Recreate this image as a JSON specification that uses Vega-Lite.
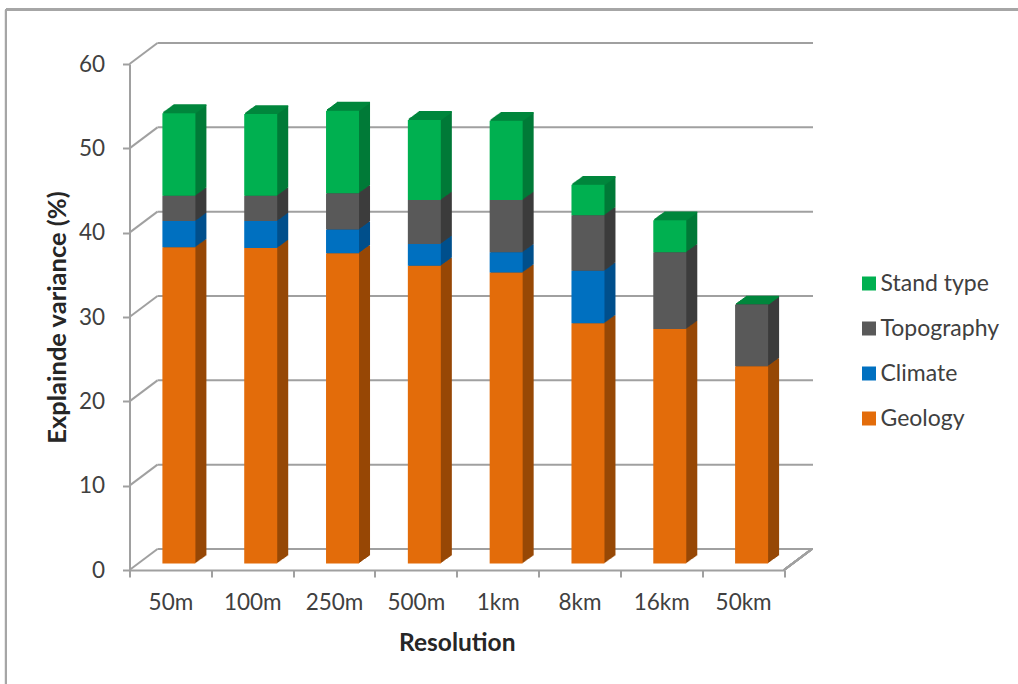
{"$schema":"https://vega.github.io/schema/vega-lite/v6.json","width":654.5,"height":506,"autosize":{"type":"none"},"padding":{"left":129.5,"top":64,"right":234,"bottom":114},"background":"white",
"config":{"view":{"stroke":null},"font":"Lato"},
"datasets":{"bars":[
{"res":"50m","part":"Geology","rank":1,"value":37.5},{"res":"50m","part":"Climate","rank":2,"value":3.1},{"res":"50m","part":"Topography","rank":3,"value":3.0},{"res":"50m","part":"Stand type","rank":4,"value":9.8},
{"res":"100m","part":"Geology","rank":1,"value":37.4},{"res":"100m","part":"Climate","rank":2,"value":3.2},{"res":"100m","part":"Topography","rank":3,"value":3.0},{"res":"100m","part":"Stand type","rank":4,"value":9.7},
{"res":"250m","part":"Geology","rank":1,"value":36.8},{"res":"250m","part":"Climate","rank":2,"value":2.8},{"res":"250m","part":"Topography","rank":3,"value":4.3},{"res":"250m","part":"Stand type","rank":4,"value":9.8},
{"res":"500m","part":"Geology","rank":1,"value":35.3},{"res":"500m","part":"Climate","rank":2,"value":2.6},{"res":"500m","part":"Topography","rank":3,"value":5.2},{"res":"500m","part":"Stand type","rank":4,"value":9.5},
{"res":"1km","part":"Geology","rank":1,"value":34.5},{"res":"1km","part":"Climate","rank":2,"value":2.4},{"res":"1km","part":"Topography","rank":3,"value":6.2},{"res":"1km","part":"Stand type","rank":4,"value":9.4},
{"res":"8km","part":"Geology","rank":1,"value":28.5},{"res":"8km","part":"Climate","rank":2,"value":6.2},{"res":"8km","part":"Topography","rank":3,"value":6.6},{"res":"8km","part":"Stand type","rank":4,"value":3.6},
{"res":"16km","part":"Geology","rank":1,"value":27.8},{"res":"16km","part":"Climate","rank":2,"value":0},{"res":"16km","part":"Topography","rank":3,"value":9.1},{"res":"16km","part":"Stand type","rank":4,"value":3.8},
{"res":"50km","part":"Geology","rank":1,"value":23.4},{"res":"50km","part":"Climate","rank":2,"value":0},{"res":"50km","part":"Topography","rank":3,"value":7.3},{"res":"50km","part":"Stand type","rank":4,"value":0}],
"grid":[{"v":0},{"v":10},{"v":20},{"v":30},{"v":40},{"v":50},{"v":60}]},
"resolve":{"scale":{"x":"independent","color":"independent"},"axis":{"y":"independent"}},
"layer":[
{"data":{"name":"grid"},"layer":[
{"mark":{"type":"rule","color":"#a6a6a6","strokeWidth":2},"encoding":{"x":{"datum":-1.51,"type":"quantitative","scale":{"domain":[0,8],"nice":false},"axis":null},"x2":{"datum":10.9},"y":{"datum":66.46,"type":"quantitative","scale":{"domain":[0,60],"nice":false},"axis":null}}},
{"mark":{"type":"rule","color":"#a6a6a6","strokeWidth":2},"encoding":{"x":{"datum":-1.51,"type":"quantitative","scale":{"domain":[0,8],"nice":false},"axis":null},"y":{"datum":66.46,"type":"quantitative","scale":{"domain":[0,60],"nice":false},"axis":null},"y2":{"datum":-13.6}}},
{"mark":{"type":"rule","color":"#a0a0a0","strokeWidth":2,"xOffset":28,"x2Offset":29,"yOffset":-21},"encoding":{"x":{"datum":0,"type":"quantitative","scale":{"domain":[0,8],"nice":false},"axis":null},"x2":{"datum":8},"y":{"field":"v","type":"quantitative","scale":{"domain":[0,60],"nice":false},"axis":null}}},
{"transform":[{"calculate":"datum.v+2.49","as":"v2"}],"mark":{"type":"rule","color":"#a0a0a0","strokeWidth":2},"encoding":{"x":{"datum":0,"type":"quantitative","scale":{"domain":[0,8],"nice":false},"axis":null},"x2":{"datum":0.342},"y":{"field":"v","type":"quantitative","scale":{"domain":[0,60],"nice":false},"axis":null},"y2":{"field":"v2"}}},
{"mark":{"type":"rule","color":"#a0a0a0","strokeWidth":2},"encoding":{"x":{"datum":8,"type":"quantitative","scale":{"domain":[0,8],"nice":false},"axis":null},"x2":{"datum":8.342},"y":{"datum":0,"type":"quantitative","scale":{"domain":[0,60],"nice":false},"axis":null},"y2":{"datum":2.49}}}
]},
{"data":{"name":"bars"},
"encoding":{"x":{"field":"res","type":"nominal","sort":null,"scale":{"paddingInner":0,"paddingOuter":0},"axis":null},"y":{"field":"value","type":"quantitative","stack":"zero","scale":{"domain":[0,60],"nice":false},"axis":null},"order":{"field":"rank"},"color":{"field":"part","type":"nominal","scale":{"domain":["Stand type","Topography","Climate","Geology"],"range":["#007a38","#3c3c3c","#00508c","#974806"]},"legend":null}},
"layer":[
{"mark":{"type":"bar","size":33,"xOffset":19.5,"yOffset":-14.5}},
{"mark":{"type":"bar","size":33,"xOffset":18.5,"yOffset":-13.8}},
{"mark":{"type":"bar","size":33,"xOffset":17.5,"yOffset":-13.0}},
{"mark":{"type":"bar","size":33,"xOffset":16.5,"yOffset":-12.3}},
{"mark":{"type":"bar","size":33,"xOffset":15.5,"yOffset":-11.6}},
{"mark":{"type":"bar","size":33,"xOffset":14.5,"yOffset":-10.9}},
{"mark":{"type":"bar","size":33,"xOffset":13.5,"yOffset":-10.2}},
{"mark":{"type":"bar","size":33,"xOffset":12.5,"yOffset":-9.4}},
{"mark":{"type":"bar","size":33,"xOffset":11.5,"yOffset":-8.7}},
{"mark":{"type":"bar","size":33,"xOffset":10.5,"yOffset":-8.0}},
{"mark":{"type":"bar","size":33,"xOffset":9.5,"yOffset":-7.3}}
]},
{"data":{"name":"bars"},
"encoding":{"x":{"field":"res","type":"nominal","sort":null,"scale":{"paddingInner":0,"paddingOuter":0},"axis":null},"y":{"aggregate":"sum","field":"value","type":"quantitative","scale":{"domain":[0,60],"nice":false},"axis":null}},
"layer":[
{"mark":{"type":"tick","color":"#00863c","size":33,"thickness":1.6,"opacity":1,"xOffset":19.5,"yOffset":-14.5}},
{"mark":{"type":"tick","color":"#00863c","size":33,"thickness":1.6,"opacity":1,"xOffset":18.5,"yOffset":-13.8}},
{"mark":{"type":"tick","color":"#00863c","size":33,"thickness":1.6,"opacity":1,"xOffset":17.5,"yOffset":-13.0}},
{"mark":{"type":"tick","color":"#00863c","size":33,"thickness":1.6,"opacity":1,"xOffset":16.5,"yOffset":-12.3}},
{"mark":{"type":"tick","color":"#00863c","size":33,"thickness":1.6,"opacity":1,"xOffset":15.5,"yOffset":-11.6}},
{"mark":{"type":"tick","color":"#00863c","size":33,"thickness":1.6,"opacity":1,"xOffset":14.5,"yOffset":-10.9}},
{"mark":{"type":"tick","color":"#00863c","size":33,"thickness":1.6,"opacity":1,"xOffset":13.5,"yOffset":-10.2}},
{"mark":{"type":"tick","color":"#00863c","size":33,"thickness":1.6,"opacity":1,"xOffset":12.5,"yOffset":-9.4}},
{"mark":{"type":"tick","color":"#00863c","size":33,"thickness":1.6,"opacity":1,"xOffset":11.5,"yOffset":-8.7}},
{"mark":{"type":"tick","color":"#00863c","size":33,"thickness":1.6,"opacity":1,"xOffset":10.5,"yOffset":-8.0}},
{"mark":{"type":"tick","color":"#00863c","size":33,"thickness":1.6,"opacity":1,"xOffset":9.5,"yOffset":-7.3}}
]},
{"data":{"name":"bars"},"mark":{"type":"bar","size":33,"xOffset":8.5,"yOffset":-6.5},
"encoding":{"x":{"field":"res","type":"nominal","sort":null,"scale":{"paddingInner":0,"paddingOuter":0},"axis":{"title":"Resolution","titleFont":"Lato","titleFontWeight":"bold","titleFontSize":24.5,"titleColor":"#262626","titlePadding":18,"labelFont":"Lato","labelFontSize":22.5,"labelColor":"#404040","labelAngle":0,"labelPadding":14,"domainColor":"#a0a0a0","domainWidth":2,"tickColor":"#a0a0a0","tickWidth":2,"tickSize":7,"tickBand":"extent"}},
"y":{"field":"value","type":"quantitative","stack":"zero","scale":{"domain":[0,60],"nice":false},"axis":{"title":"Explainde variance (%)","titleFont":"Lato","titleFontWeight":"bold","titleFontSize":25.5,"titleColor":"#262626","titlePadding":8,"labelFont":"Lato","labelFontSize":22.5,"labelColor":"#404040","labelPadding":18,"values":[0,10,20,30,40,50,60],"domainColor":"#a0a0a0","domainWidth":2,"tickColor":"#a0a0a0","tickWidth":2,"tickSize":7,"grid":false}},
"order":{"field":"rank"},
"color":{"field":"part","type":"nominal","scale":{"domain":["Stand type","Topography","Climate","Geology"],"range":["#00B050","#595959","#0070C0","#E36C0A"]},"legend":{"title":null,"orient":"none","legendX":728,"legendY":208,"symbolType":"square","symbolSize":196,"symbolStrokeWidth":0,"symbolOpacity":1,"labelFont":"Lato","labelFontSize":23,"labelColor":"#404040","labelOffset":0,"rowPadding":21,"labelLimit":200}}}}
]}
